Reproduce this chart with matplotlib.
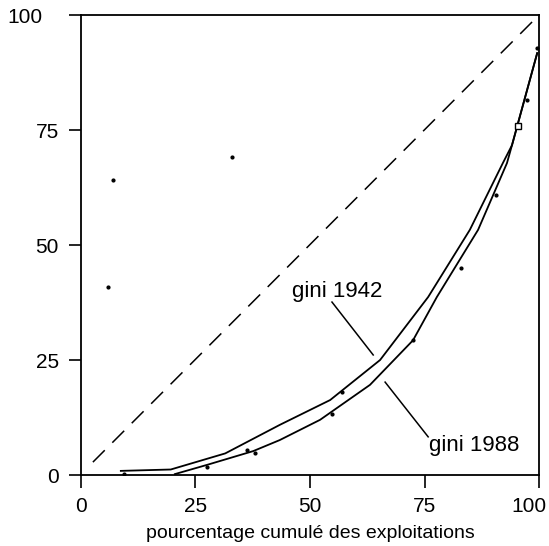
import matplotlib.pyplot as plt
from matplotlib.transforms import ScaledTranslation

plt.rcParams['font.family'] = ['Liberation Sans', 'DejaVu Sans']

# courbes de Lorenz
x_1942 = [8.7, 19.6, 31.5, 43.4, 54.4, 65.3, 75.8, 84.9, 92.1, 94.1, 99.6]
y_1942 = [0.9, 1.2, 4.7, 10.9, 16.3, 25, 38.7, 53.3, 67.8, 71.7, 91.7]
x_1988 = [20.5, 27.5, 37.6, 43.4, 52.2, 63.1, 72.5, 77.7, 86.7, 93, 94.1, 99.6]
y_1988 = [0.2, 2.2, 5.2, 7.6, 12, 19.6, 29.3, 38.7, 53.3, 67.8, 71.7, 91.7]

# points observes
px = [9.5, 27.5, 36.2, 38, 54.8, 57, 72.5, 83, 90.6, 97.4, 99.6, 7, 33, 5.9]
py = [0.3, 1.7, 5.4, 4.8, 13.3, 18, 29.3, 45, 60.9, 81.5, 92.8, 64.1, 69.1, 40.9]

ticks = [0, 25, 50, 75, 100]

fig = plt.figure(figsize=(5.49, 5.46), dpi=100)
ax = fig.add_axes([0.1475, 0.130, 0.8343, 0.8425])

ax.plot([2.6, 100], [2.8, 100], color='black', lw=1.1, dashes=(11, 7))
ax.plot(x_1942, y_1942, color='black', lw=1.3)
ax.plot(x_1988, y_1988, color='black', lw=1.3)
ax.scatter(px, py, s=4, color='black', zorder=3)
ax.plot([95.4], [75.9], marker='s', ms=4, mfc='white', mec='black', mew=1)

ax.plot([54.8, 63.8], [37.6, 26.1], color='black', lw=1.1)
ax.plot([66.4, 75.8], [20.2, 8.3], color='black', lw=1.1)
ax.text(55.9, 39.8, "gini 1942", fontsize=16, ha='center', va='center')
ax.text(85.8, 6.5, "gini 1988", fontsize=16, ha='center', va='center')

ax.set_xlim(0, 100)
ax.set_ylim(0, 100)
ax.set_xticks(ticks)
ax.set_yticks(ticks)
ax.tick_params(direction='out', length=9, width=1.2, labelsize=15, pad=7)
for s in ax.spines.values():
    s.set_linewidth(1.3)
ax.set_xlabel("pourcentage cumulé des exploitations", fontsize=14, labelpad=6)

# le "100" de l'axe x est un peu decale vers la gauche, celui de l'axe y aussi
lab = ax.get_xticklabels()[-1]
lab.set_transform(lab.get_transform() + ScaledTranslation(-7 / 72, 0, fig.dpi_scale_trans))
lab = ax.get_yticklabels()[-1]
lab.set_transform(lab.get_transform() + ScaledTranslation(-12 / 72, 0, fig.dpi_scale_trans))

fig.savefig("out.png", dpi=100)
